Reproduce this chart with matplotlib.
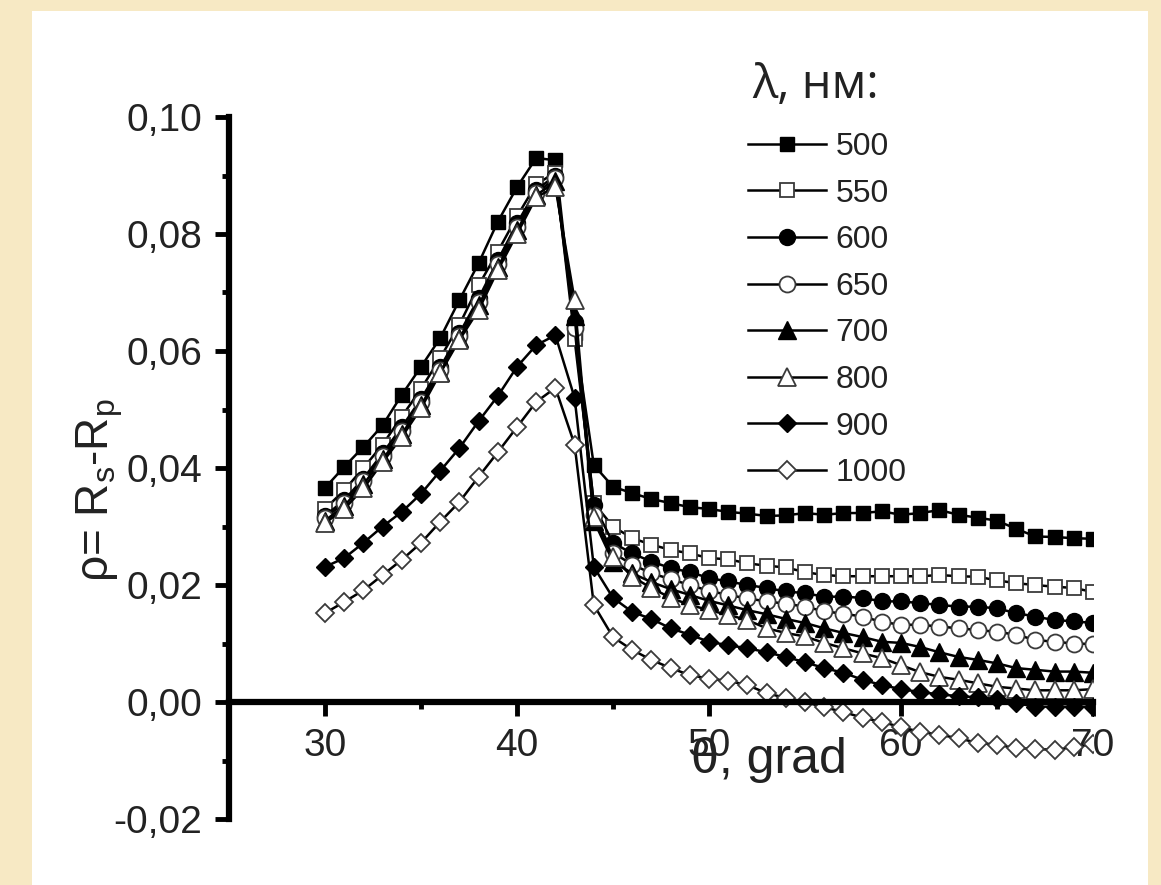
import matplotlib
matplotlib.use("Agg")
import matplotlib.pyplot as plt
from matplotlib.patches import Rectangle
from matplotlib.ticker import FixedLocator, MultipleLocator

# ---------------- data ----------------
theta = list(range(30, 71))

rho_500 = [0.0366, 0.0402, 0.0436, 0.0473, 0.0525, 0.0573, 0.0622, 0.0687, 0.0750, 0.0821,
           0.0880, 0.0930, 0.0926, 0.0630, 0.0405, 0.0368, 0.0357, 0.0347, 0.0340, 0.0333,
           0.0330, 0.0325, 0.0322, 0.0318, 0.0319, 0.0323, 0.0320, 0.0323, 0.0323, 0.0326,
           0.0320, 0.0323, 0.0328, 0.0320, 0.0315, 0.0310, 0.0296, 0.0283, 0.0282, 0.0280,
           0.0279]
rho_550 = [0.0330, 0.0362, 0.0400, 0.0440, 0.0488, 0.0535, 0.0588, 0.0645, 0.0712, 0.0770,
           0.0830, 0.0885, 0.0905, 0.0620, 0.0340, 0.0300, 0.0280, 0.0269, 0.0260, 0.0254,
           0.0246, 0.0244, 0.0237, 0.0233, 0.0230, 0.0222, 0.0217, 0.0215, 0.0215, 0.0215,
           0.0215, 0.0215, 0.0217, 0.0215, 0.0214, 0.0208, 0.0203, 0.0200, 0.0197, 0.0195,
           0.0188]
rho_600 = [0.0318, 0.0345, 0.0382, 0.0425, 0.0470, 0.0518, 0.0572, 0.0630, 0.0690, 0.0755,
           0.0818, 0.0875, 0.0900, 0.0650, 0.0337, 0.0272, 0.0254, 0.0240, 0.0229, 0.0222,
           0.0212, 0.0206, 0.0200, 0.0195, 0.0189, 0.0186, 0.0180, 0.0180, 0.0178, 0.0172,
           0.0172, 0.0169, 0.0166, 0.0163, 0.0163, 0.0160, 0.0152, 0.0146, 0.0140, 0.0138,
           0.0135]
rho_650 = [0.0315, 0.0340, 0.0377, 0.0420, 0.0463, 0.0512, 0.0567, 0.0625, 0.0683, 0.0748,
           0.0812, 0.0870, 0.0895, 0.0640, 0.0320, 0.0255, 0.0235, 0.0220, 0.0210, 0.0200,
           0.0190, 0.0183, 0.0177, 0.0172, 0.0168, 0.0163, 0.0155, 0.0151, 0.0146, 0.0137,
           0.0132, 0.0132, 0.0129, 0.0126, 0.0123, 0.0120, 0.0115, 0.0106, 0.0103, 0.0100,
           0.0099]
rho_700 = [0.0310, 0.0335, 0.0372, 0.0415, 0.0458, 0.0507, 0.0564, 0.0622, 0.0678, 0.0743,
           0.0806, 0.0866, 0.0890, 0.0660, 0.0310, 0.0240, 0.0220, 0.0205, 0.0193, 0.0183,
           0.0173, 0.0165, 0.0157, 0.0150, 0.0142, 0.0135, 0.0126, 0.0118, 0.0111, 0.0103,
           0.0101, 0.0094, 0.0085, 0.0077, 0.0072, 0.0066, 0.0058, 0.0055, 0.0052, 0.0052,
           0.0050]
rho_800 = [0.0306, 0.0330, 0.0365, 0.0410, 0.0453, 0.0502, 0.0562, 0.0619, 0.0670, 0.0738,
           0.0800, 0.0863, 0.0880, 0.0687, 0.0316, 0.0248, 0.0214, 0.0195, 0.0178, 0.0166,
           0.0157, 0.0149, 0.0140, 0.0126, 0.0118, 0.0112, 0.0101, 0.0092, 0.0083, 0.0075,
           0.0063, 0.0051, 0.0043, 0.0038, 0.0032, 0.0026, 0.0023, 0.0020, 0.0020, 0.0020,
           0.0022]
rho_900 = [0.0231, 0.0246, 0.0272, 0.0300, 0.0325, 0.0356, 0.0395, 0.0434, 0.0480, 0.0523,
           0.0573, 0.0610, 0.0627, 0.0520, 0.0231, 0.0178, 0.0154, 0.0142, 0.0126, 0.0115,
           0.0103, 0.0097, 0.0092, 0.0085, 0.0077, 0.0068, 0.0058, 0.0050, 0.0038, 0.0029,
           0.0022, 0.0017, 0.0013, 0.0010, 0.0008, 0.0005, -0.0002, -0.0008, -0.0008, -0.0008,
           -0.0008]
rho_1000 = [0.0152, 0.0171, 0.0191, 0.0217, 0.0243, 0.0272, 0.0308, 0.0342, 0.0385, 0.0427,
            0.0470, 0.0513, 0.0537, 0.0440, 0.0166, 0.0111, 0.0089, 0.0072, 0.0058, 0.0046,
            0.0040, 0.0036, 0.0029, 0.0015, 0.0007, 0.0000, -0.0009, -0.0017, -0.0027, -0.0034,
            -0.0043, -0.0051, -0.0056, -0.0062, -0.0070, -0.0073, -0.0079, -0.0080, -0.0082, -0.0077,
            -0.0072]

series_labels = ["500", "550", "600", "650", "700", "800", "900", "1000"]
series_values = [rho_500, rho_550, rho_600, rho_650, rho_700, rho_800, rho_900, rho_1000]

x_ticks = [30, 40, 50, 60, 70]
x_tick_labels = ["30", "40", "50", "60", "70"]
y_ticks = [-0.02, 0.00, 0.02, 0.04, 0.06, 0.08, 0.10]
y_tick_labels = ["-0,02", "0,00", "0,02", "0,04", "0,06", "0,08", "0,10"]

# ---------------- style ----------------
plt.rcParams["font.family"] = ["Liberation Sans", "DejaVu Sans"]
plt.rcParams["mathtext.fontset"] = "custom"
plt.rcParams["mathtext.rm"] = "Liberation Sans"

markers = ["s", "s", "o", "o", "^", "^", "D", "D"]
filled = [True, False, True, False, True, False, True, False]
msizes = [10.5, 10.5, 11.5, 11.5, 12.5, 12.5, 9.5, 9.5]

W, H = 1161, 885
fig = plt.figure(figsize=(W / 100, H / 100), dpi=100)
fig.patch.set_facecolor("#F7E9C4")
fig.patches.append(Rectangle((32 / W, 0), (1148 - 32) / W, 1 - 11 / H,
                             transform=fig.transFigure, facecolor="white",
                             edgecolor="none", zorder=-5))

ax = fig.add_axes([229 / W, 1 - 819 / H, (1093 - 229) / W, (819 - 117) / H])
ax.set_facecolor("none")
ax.set_zorder(2)

for lab, vals, m, f, ms in zip(series_labels, series_values, markers, filled, msizes):
    ax.plot(theta, vals, color="black", lw=1.8, marker=m, ms=ms,
            markerfacecolor="black" if f else "white",
            markeredgecolor="black" if f else "#3a3a3a",
            markeredgewidth=1.0 if f else 1.3, label=lab)

ax.set_xlim(25, 70)
ax.set_ylim(-0.02, 0.10)

for s in ["top", "right"]:
    ax.spines[s].set_visible(False)
ax.spines["left"].set_linewidth(4.5)
ax.spines["bottom"].set_linewidth(4.5)
ax.spines["bottom"].set_position(("data", 0))

ax.xaxis.set_major_locator(FixedLocator(x_ticks))
ax.set_xticklabels(x_tick_labels)
ax.xaxis.set_minor_locator(MultipleLocator(5))
ax.yaxis.set_major_locator(FixedLocator(y_ticks))
ax.set_yticklabels(y_tick_labels)
ax.yaxis.set_minor_locator(MultipleLocator(0.01))

ax.tick_params(which="major", direction="out", length=10, width=3.5, labelsize=28,
               pad=9, colors="black")
ax.tick_params(which="minor", direction="out", length=5, width=3.5)
for t in ax.get_xticklabels() + ax.get_yticklabels():
    t.set_color("#222222")

# axis labels
fig.text(100 / W, 1 - 490 / H, r"ρ= R$_\mathrm{s}$-R$_\mathrm{p}$", rotation=90,
         ha="center", va="center", fontsize=33, color="#222222")
fig.text(769 / W, 1 - 760 / H, "θ, grad", ha="center", va="center", fontsize=36,
         color="#222222")

# legend
fig.text(752 / W, 1 - 85 / H, "λ, нм:", ha="left", va="center", fontsize=34,
         color="#222222", family=["Open Sans", "DejaVu Sans"])
leg = ax.legend(loc="upper left", bbox_to_anchor=(748 / W, 1 - 132 / H),
                bbox_transform=fig.transFigure, frameon=False, fontsize=23,
                handlelength=2.45, handletextpad=0.3, labelspacing=0.52,
                borderpad=0, borderaxespad=0)
for t in leg.get_texts():
    t.set_color("#222222")

fig.savefig("out.png", dpi=100, facecolor=fig.get_facecolor())
